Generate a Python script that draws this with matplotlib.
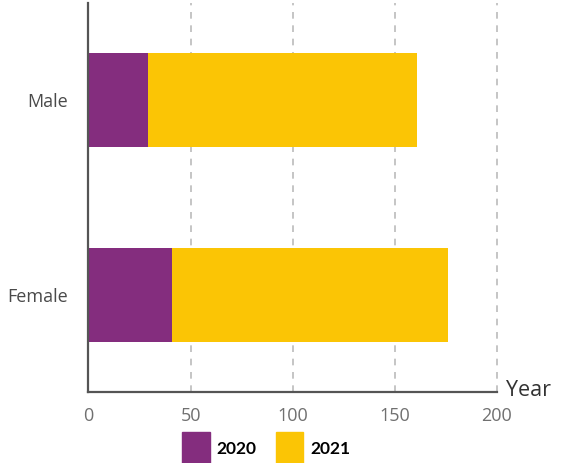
import matplotlib.pyplot as plt
from matplotlib.patches import Patch

# data
genders = ['Male', 'Female']
years = ['2020', '2021']
v2020 = [29, 41]
v2021 = [132, 135]
colors = ['#842D7E', '#FBC505']
xticks = [0, 50, 100, 150, 200]

fig = plt.figure(figsize=(5.65, 4.63), dpi=100)
ax = fig.add_axes([0.1566, 0.1533, 0.7230, 0.8402])

pos = [1, 0]
ax.barh(pos, v2020, height=0.485, color=colors[0])
ax.barh(pos, v2021, left=v2020, height=0.485, color=colors[1])

ax.set_xlim(0, 200)
ax.set_ylim(-0.5, 1.5)
ax.set_xticks(xticks)
ax.set_yticks(pos)
ax.set_yticklabels(genders)
ax.tick_params(axis='x', length=0, labelsize=13, labelcolor='#707070', pad=11)
ax.tick_params(axis='y', length=0, labelsize=13, labelcolor='#4a4a4a', pad=15)
for lab in ax.get_xticklabels() + ax.get_yticklabels():
    lab.set_family('Open Sans')

ax.xaxis.grid(True, color='#bbbbbb', linestyle=(0, (4, 4)), linewidth=1.2)
for gl in ax.get_xgridlines():
    gl.set_clip_on(False)
ax.set_axisbelow(True)
for s in ['top', 'right']:
    ax.spines[s].set_visible(False)
for s in ['left', 'bottom']:
    ax.spines[s].set_color('#555555')
    ax.spines[s].set_linewidth(1.6)

ax.text(1.022, 0.005, 'Year', transform=ax.transAxes, fontsize=15.5,
        family='Open Sans', color='#333333', ha='left', va='center')

handles = [Patch(color=c, label=y) for c, y in zip(colors, years)]
fig.legend(handles=handles, loc='upper center', bbox_to_anchor=(0.471, 0.085),
           ncol=2, frameon=False, borderpad=0, handlelength=1.6,
           handleheight=2.6, handletextpad=0.4, columnspacing=1.1,
           prop={'family': 'Lato', 'weight': 'bold', 'size': 12.5})

fig.savefig('out.png', dpi=100)
